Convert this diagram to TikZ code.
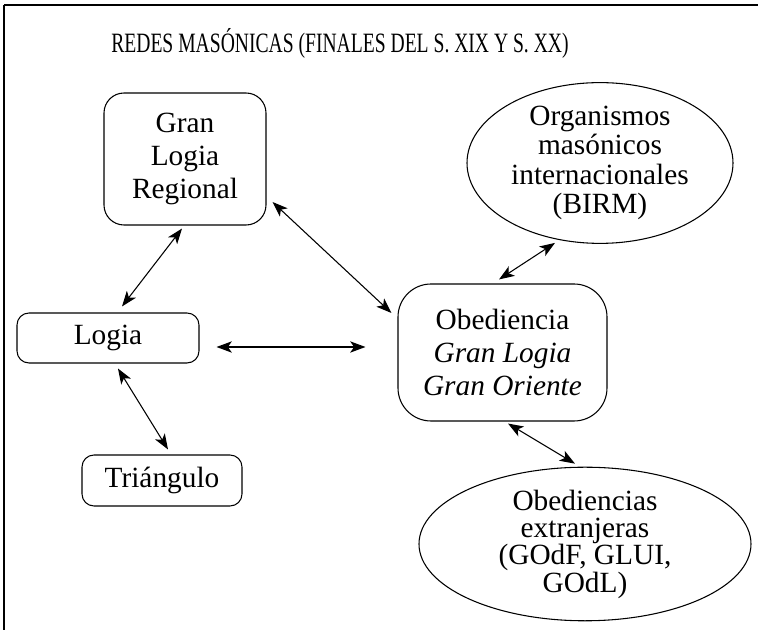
\documentclass[tikz,border=0pt]{standalone}
\usepackage{fontspec}
\setmainfont{Liberation Serif}
\newfontfamily\titlefont[FakeStretch=0.7]{Liberation Serif}
\usetikzlibrary{arrows.meta,calc,shapes.geometric}
\begin{document}
\begin{tikzpicture}[x=0.75pt,y=-0.75pt,
  box/.style={draw, line width=0.8pt, inner sep=0pt, align=center,
    font=\fontsize{22}{25}\selectfont},
  oval/.style={draw, ellipse, line width=0.8pt, inner sep=0pt, align=center},
  tip/.style={Stealth[length=11.5pt,width=8.5pt,inset=3pt]},
  arr/.style={line width=0.8pt, {Stealth[length=11.5pt,width=8.5pt,inset=3pt]}-{Stealth[length=11.5pt,width=8.5pt,inset=3pt]}}]
\useasboundingbox (0,0) rectangle (758,630);
\draw[line width=1.5pt] (4,5) -- (758,5);
\draw[line width=1.1pt] (4,5) -- (4,630);
\node (title) at (340,43) {\titlefont\fontsize{21}{22}\selectfont REDES MASÓNICAS (FINALES DEL S. XIX Y S. XX)};
\node[box, rounded corners=15pt, minimum width=121.5pt, minimum height=99pt] (glr) at (185,159) {Gran\\Logia\\Regional};
\node[box, rounded corners=9pt, minimum width=136.5pt, minimum height=37.5pt] (logia) at (108,338) {Logia};
\node[box, rounded corners=9pt, minimum width=120pt, minimum height=38.25pt] (tri) at (162,480.5) {Triángulo};
\node[box, rounded corners=24.75pt, minimum width=156.75pt, minimum height=102.75pt] (obed) at (502.5,352.5) {Obediencia\\\textit{Gran Logia}\\\textit{Gran Oriente}};
\node[oval, minimum width=199.5pt, minimum height=108pt, font=\fontsize{22}{22}\selectfont] (org) at (600,163) {Organismos\\masónicos\\internacionales\\(BIRM)};
\node[oval, minimum width=249pt, minimum height=97.5pt, font=\fontsize{22}{20.5}\selectfont] (ext) at (585,544) {Obediencias\\extranjeras\\(GOdF, GLUI,\\GOdL)};
\draw[arr] ($(glr.south)+(-3,3)$) -- ($(logia.north)+(14,-6)$);
\draw[arr] ($(glr.east)+(6,43)$) -- ($(obed.west)+(-6,-39.5)$);
\draw[arr] ($(logia.east)+(17,9)$) -- ($(obed.west)+(-32,-5.5)$);
\draw[arr] ($(logia.south)+(10,5)$) -- ($(tri.north)+(6,-5)$);
\draw[arr] ($(org.south)+(-45,-1)$) -- ($(obed.north)+(-3.5,-4)$);
\draw[arr] ($(obed.south)+(5.5,2)$) -- ($(ext.north)+(-10,-3)$);
\end{tikzpicture}
\end{document}
